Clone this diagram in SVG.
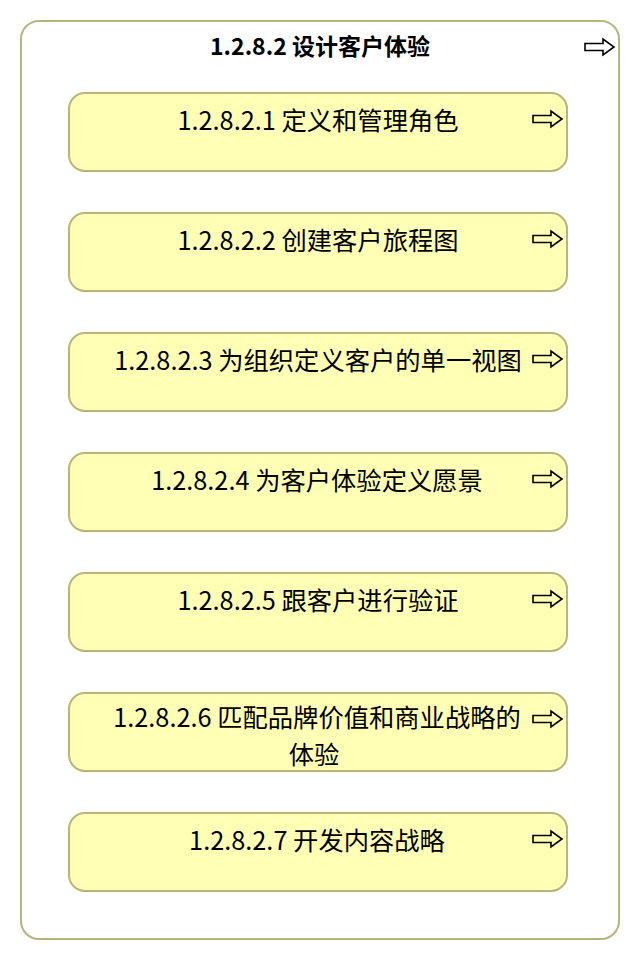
<svg xmlns="http://www.w3.org/2000/svg" xmlns:xlink="http://www.w3.org/1999/xlink" width="640" height="960" viewBox="0 0 640 960">
<style>
.box{fill:#ffffb5;stroke:#b5b57c;stroke-width:2}
.outer{fill:#ffffff;stroke:#b5b57c;stroke-width:2}
.t{font-family:"Noto Sans CJK SC","Noto Sans",sans-serif;font-size:25.3px;fill:#000;text-anchor:middle}
.title{font-family:"Noto Sans CJK SC","Noto Sans",sans-serif;font-size:23px;font-weight:bold;fill:#000;text-anchor:middle}
.arr{fill:none;stroke:#000;stroke-width:1.6;stroke-linejoin:miter}
</style>
<defs>
<path id="arrow" class="arr" d="M0,4.5 H18 V0 L29,8 L18,16 V11.5 H0 Z"/>
</defs>
<rect width="640" height="960" fill="#ffffff"/>
<g id="container">
<rect class="outer" x="21" y="21" width="598" height="918" rx="18" ry="18"/>
<text class="title" x="320" y="55">1.2.8.2 设计客户体验</text>
<use xlink:href="#arrow" x="585" y="39"/>
</g>
<g id="connectors"></g>
<g id="n1">
<rect class="box" x="69" y="93" width="498" height="78" rx="16" ry="16"/>
<text class="t" x="318" y="130">1.2.8.2.1 定义和管理角色</text>
<use xlink:href="#arrow" x="533" y="111"/>
</g>
<g id="n2">
<rect class="box" x="69" y="213" width="498" height="78" rx="16" ry="16"/>
<text class="t" x="318" y="250">1.2.8.2.2 创建客户旅程图</text>
<use xlink:href="#arrow" x="533" y="231"/>
</g>
<g id="n3">
<rect class="box" x="69" y="333" width="498" height="78" rx="16" ry="16"/>
<text class="t" x="318" y="370">1.2.8.2.3 为组织定义客户的单一视图</text>
<use xlink:href="#arrow" x="533" y="351"/>
</g>
<g id="n4">
<rect class="box" x="69" y="453" width="498" height="78" rx="16" ry="16"/>
<text class="t" x="317" y="490">1.2.8.2.4 为客户体验定义愿景</text>
<use xlink:href="#arrow" x="533" y="471"/>
</g>
<g id="n5">
<rect class="box" x="69" y="573" width="498" height="78" rx="16" ry="16"/>
<text class="t" x="318" y="610">1.2.8.2.5 跟客户进行验证</text>
<use xlink:href="#arrow" x="533" y="591"/>
</g>
<g id="n6">
<rect class="box" x="69" y="693" width="498" height="78" rx="16" ry="16"/>
<text class="t"><tspan x="317" y="727">1.2.8.2.6 匹配品牌价值和商业战略的</tspan><tspan x="314" y="764">体验</tspan></text>
<use xlink:href="#arrow" x="533" y="711"/>
</g>
<g id="n7">
<rect class="box" x="69" y="813" width="498" height="78" rx="16" ry="16"/>
<text class="t" x="317" y="850">1.2.8.2.7 开发内容战略</text>
<use xlink:href="#arrow" x="533" y="831"/>
</g>
</svg>
